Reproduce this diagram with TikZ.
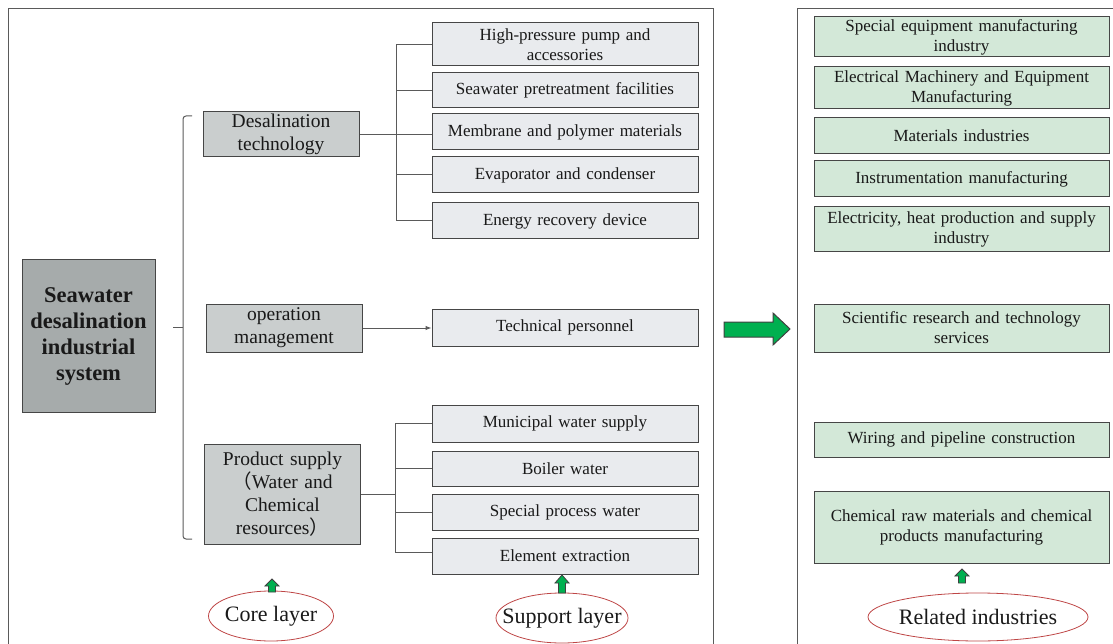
\documentclass[tikz,border=0pt]{standalone}
\usepackage{fontspec}
\setmainfont{Liberation Serif}
\newfontfamily\cjkf{Noto Sans CJK SC}
\usetikzlibrary{arrows.meta,shapes.geometric}
\definecolor{sysfill}{RGB}{166,171,171}
\definecolor{corefill}{RGB}{202,206,206}
\definecolor{supfill}{RGB}{233,235,238}
\definecolor{relfill}{RGB}{211,232,216}
\definecolor{edge}{RGB}{70,70,70}
\definecolor{lineg}{RGB}{90,90,90}
\definecolor{garrow}{RGB}{0,176,80}
\definecolor{ellred}{RGB}{190,70,70}
\begin{document}
\begin{tikzpicture}[x=1pt,y=-1pt,
  base/.style={draw=edge,line width=1pt,inner sep=0pt,align=center,text=black!90},
  sysbox/.style={base,fill=sysfill,minimum width=133pt,minimum height=152pt,text width=125pt,font=\fontsize{22.5}{26}\selectfont\bfseries},
  corebox/.style={base,fill=corefill,minimum width=156pt,text width=150pt,font=\fontsize{19.5}{23}\selectfont},
  supbox/.style={base,fill=supfill,minimum width=266pt,text width=250pt,font=\fontsize{17}{20}\selectfont},
  relbox/.style={base,fill=relfill,minimum width=295pt,text width=285pt,font=\fontsize{17}{20}\selectfont},
  layer/.style={ellipse,draw=ellred,line width=0.8pt,inner sep=0pt,label={[font=\fontsize{22}{26}\selectfont,text=black!90]center:#1}},
  conn/.style={draw=lineg,line width=1pt},
  panel/.style={draw=lineg,line width=1pt},
  garr/.style={fill=garrow,draw=black!75,line width=0.8pt,line join=miter}
]
\useasboundingbox (0,0) rectangle (1113,644);
% panels
\draw[panel] (8,644) -- (8,9) -- (713,9) -- (713,644);
\draw[panel] (797,644) -- (797,9) -- (1113,9);

% core layer
\node[sysbox] (sys) at (88.5,336) {Seawater\\desalination\\industrial\\system};
\node[corebox,minimum height=45pt] (desal) at (281,134.5) {Desalination\\technology};
\node[corebox,minimum height=48pt] (oper) at (284,328) {operation\\management};
\node[corebox,minimum height=100pt] (prod) at (282.5,494) {Product supply\\{\cjkf （}Water and\\Chemical\\resources{\cjkf ）}};

% support layer
\node[supbox,minimum height=43pt] (s1) at (565,44.5) {High-pressure pump and\\accessories};
\node[supbox,minimum height=35pt] (s2) at (565,90.5) {Seawater pretreatment facilities};
\node[supbox,minimum height=36pt] (s3) at (565,132) {Membrane and polymer materials};
\node[supbox,minimum height=36pt] (s4) at (565,175) {Evaporator and condenser};
\node[supbox,minimum height=36pt] (s5) at (565,221) {Energy recovery device};
\node[supbox,minimum height=37pt] (tp) at (565,327.5) {Technical personnel};
\node[supbox,minimum height=37pt] (p1) at (565,423.5) {Municipal water supply};
\node[supbox,minimum height=35pt] (p2) at (565,468.5) {Boiler water};
\node[supbox,minimum height=36pt] (p3) at (565,512) {Special process water};
\node[supbox,minimum height=36pt] (p4) at (565,556) {Element extraction};

% related industries
\node[relbox,minimum height=40pt] (r1) at (961.5,37) {Special equipment manufacturing\\industry};
\node[relbox,minimum height=42pt] (r2) at (961.5,88) {Electrical Machinery and Equipment\\Manufacturing};
\node[relbox,minimum height=36pt] (r3) at (961.5,136) {Materials industries};
\node[relbox,minimum height=36pt] (r4) at (961.5,179) {Instrumentation manufacturing};
\node[relbox,minimum height=45pt] (r5) at (961.5,229.5) {Electricity, heat production and supply\\industry};
\node[relbox,minimum height=48pt] (r6) at (961.5,328) {Scientific research and technology\\services};
\node[relbox,minimum height=35pt] (r7) at (961.5,439.5) {Wiring and pipeline construction};
\node[relbox,minimum height=72pt] (r8) at (961.5,527) {Chemical raw materials and chemical\\products manufacturing};

% layer labels
\node[layer=Core layer,minimum width=125pt,minimum height=50pt] (core) at (271,616) {};
\node[layer=Support layer,minimum width=132pt,minimum height=50pt] (supl) at (562,618) {};
\node[layer=Related industries,minimum width=220pt,minimum height=48pt] (rell) at (978,617) {};

% brace from system to core boxes
\coordinate (bt) at (192,116);
\coordinate (bb) at (192,539);
\coordinate (bm) at (173,327);
\draw[conn,rounded corners=3pt] (bt) -- (183,116) -- (183,539) -- (bb);
\draw[conn] (bm) -- (183,327);

% desalination branches
\draw[conn] (desal.east) -- (desal.east -| s3.west);
\draw[conn] (s1.west) -- ++(-35,0) |- (s5.west);
\draw[conn] (s2.west) -- ++(-35,0);
\draw[conn] (s4.west) -- ++(-35,0);

% operation arrow
\draw[conn,-{Latex[length=6pt,width=4.5pt]}] (oper.east) -- (oper.east -| tp.west);

% product branches
\draw[conn] (prod.east) -- (prod.east -| 396,0);
\draw[conn] (p1.west) -- ++(-36,0) |- ([yshift=4pt]p4.west);
\draw[conn] (p2.west) -- ++(-36,0);
\draw[conn] (p3.west) -- ++(-36,0);

% small green arrows
\draw[garr] (272,579) -- (279,586) -- (275.5,586) -- (275.5,592) -- (268.5,592) -- (268.5,586) -- (265,586) -- cycle;
\draw[garr] (562,575) -- (569,583) -- (565.5,583) -- (565.5,593) -- (558.5,593) -- (558.5,583) -- (555,583) -- cycle;
\draw[garr] (962,569) -- (969,576) -- (965.5,576) -- (965.5,583) -- (958.5,583) -- (958.5,576) -- (955,576) -- cycle;

% big green arrow
\draw[garr,line width=1pt] (724,322) -- (773,322) -- (773,313) -- (790,329) -- (773,345) -- (773,337) -- (724,337) -- cycle;
\end{tikzpicture}
\end{document}
